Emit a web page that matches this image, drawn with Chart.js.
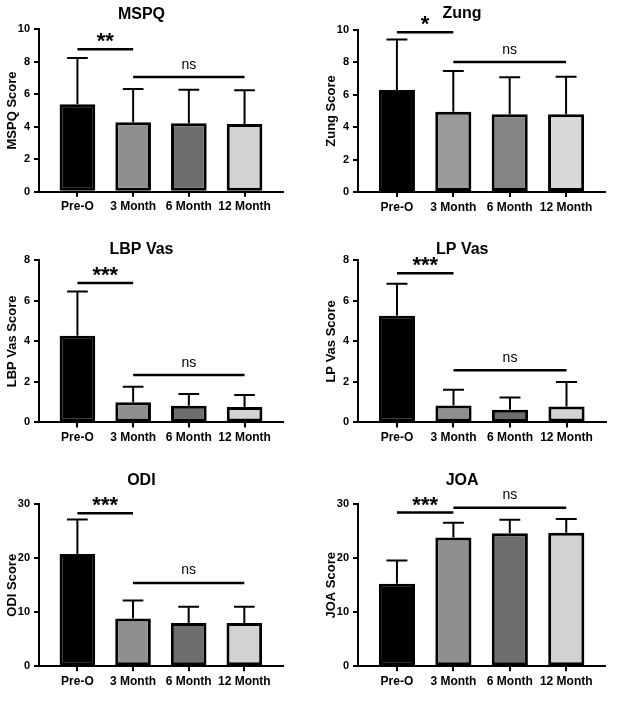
<!DOCTYPE html>
<html>
<head>
  <script src="https://cdn.jsdelivr.net/npm/chart.js@4.4.0/dist/chart.umd.min.js"></script>
  <style>
    html, body { margin: 0; padding: 0; background: #fff; overflow: hidden; }
    #wrap { position: relative; width: 638px; height: 715px; overflow: hidden; }
    canvas { position: absolute; }
  </style>
</head>
<body>
<div id="wrap"></div>
<script>
// groups on the x axis
var groups = ['Pre-O', '3 Month', '6 Month', '12 Month'];

// mean and SD per group
var mspqMean = [5.38, 4.28, 4.21, 4.17];
var mspqSD   = [2.86, 2.04, 2.07, 2.07];
var zungMean = [6.30, 4.96, 4.80, 4.80];
var zungSD   = [3.12, 2.51, 2.28, 2.32];
var lbpMean  = [4.28, 0.99, 0.82, 0.76];
var lbpSD    = [2.19, 0.77, 0.58, 0.59];
var lpMean   = [5.27, 0.84, 0.63, 0.79];
var lpSD     = [1.58, 0.77, 0.60, 1.20];
var odiMean  = [20.8, 8.83, 8.02, 8.02];
var odiSD    = [6.40, 3.37, 3.03, 3.03];
var joaMean  = [15.3, 23.83, 24.63, 24.75];
var joaSD    = [4.27, 2.77, 2.53, 2.53];

// significance brackets: group index pairs, level (in score units), label
var mspqSigPairs = [[0, 1], [1, 3]];
var mspqSigLevel = [8.77, 7.06];
var mspqSigText  = ['**', 'ns'];
var zungSigPairs = [[0, 1], [1, 3]];
var zungSigLevel = [9.86, 8.02];
var zungSigText  = ['*', 'ns'];
var lbpSigPairs  = [[0, 1], [1, 3]];
var lbpSigLevel  = [6.88, 2.34];
var lbpSigText   = ['***', 'ns'];
var lpSigPairs   = [[0, 1], [1, 3]];
var lpSigLevel   = [7.36, 2.58];
var lpSigText    = ['***', 'ns'];
var odiSigPairs  = [[0, 1], [1, 3]];
var odiSigLevel  = [28.33, 15.43];
var odiSigText   = ['***', 'ns'];
var joaSigPairs  = [[0, 1], [1, 3]];
var joaSigLevel  = [28.46, 29.38];
var joaSigText   = ['***', 'ns'];

var FONT = '"Liberation Sans", Arial, Helvetica, sans-serif';
var barColors = ['#000000', '#8f8f92', '#6d6d6d', '#d2d2d2'];
var zungColors = ['#000000', '#9a9a9a', '#848484', '#d8d8d8'];

// ax/ar = axis left/right, at/ab = plot top/bottom, tx/ty = title centre
function panel(p) {
  var L = p.ax - 39;
  var W = Math.round(2 * (p.tx - L));
  var T = p.ty - 12;
  var H = Math.round(p.ab - T + 40);
  var cv = document.createElement('canvas');
  cv.width = W; cv.height = H;
  cv.style.left = L + 'px'; cv.style.top = T + 'px';
  document.getElementById('wrap').appendChild(cv);

  var titlePadTop = (p.ty - T) - 8;
  var titlePadBottom = (p.at - T) - titlePadTop - 19.2;

  var extras = {
    id: 'extras',
    afterDatasetsDraw: function(chart) {
      var ctx = chart.ctx, xs = chart.scales.x, ys = chart.scales.y;
      var meta = chart.getDatasetMeta(0);
      ctx.save();
      ctx.strokeStyle = '#000';
      ctx.lineWidth = 2;
      meta.data.forEach(function(bar, i) {
        var top = ys.getPixelForValue(p.mean[i]);
        var end = ys.getPixelForValue(p.mean[i] + p.sd[i]);
        var cap = bar.width * 0.29;
        ctx.beginPath();
        ctx.moveTo(bar.x, top); ctx.lineTo(bar.x, end);
        ctx.moveTo(bar.x - cap, end); ctx.lineTo(bar.x + cap, end);
        ctx.stroke();
      });
      ctx.lineWidth = 2.5;
      ctx.fillStyle = '#000';
      ctx.textAlign = 'center';
      ctx.textBaseline = 'alphabetic';
      p.pairs.forEach(function(pr, k) {
        var x1 = xs.getPixelForValue(pr[0]), x2 = xs.getPixelForValue(pr[1]);
        var yy = ys.getPixelForValue(p.level[k]);
        ctx.beginPath(); ctx.moveTo(x1, yy); ctx.lineTo(x2, yy); ctx.stroke();
        var txt = p.text[k];
        if (txt === 'ns') {
          ctx.font = '14px ' + FONT;
          ctx.fillText(txt, (x1 + x2) / 2, yy - 8.5);
        } else {
          ctx.font = 'bold 22px ' + FONT;
          ctx.fillText(txt, (x1 + x2) / 2, yy - 1);
        }
      });
      ctx.restore();
    }
  };

  return new Chart(cv, {
    type: 'bar',
    data: {
      datasets: [{
        data: p.mean.map(function(v, i) { return { x: i, y: v }; }),
        backgroundColor: p.colors,
        borderColor: '#000',
        borderWidth: 3,
        borderSkipped: false,
        barPercentage: 0.64,
        categoryPercentage: 1
      }]
    },
    options: {
      responsive: false,
      animation: false,
      layout: { padding: { top: 0, left: 0, bottom: 0, right: W - (p.ar - L) } },
      plugins: {
        legend: { display: false },
        tooltip: { enabled: false },
        title: {
          display: true, text: p.title, color: '#000',
          font: { family: FONT, size: 16, weight: 'bold', lineHeight: 1.2 },
          padding: { top: titlePadTop, bottom: titlePadBottom }
        }
      },
      scales: {
        x: {
          type: 'linear', min: -0.69, max: 3.69, offset: false,
          afterBuildTicks: function(s) { s.ticks = groups.map(function(g, i) { return { value: i }; }); },
          afterFit: function(s) { s.height = H - (p.ab - T); },
          ticks: {
            autoSkip: false, maxRotation: 0, padding: 3, color: '#000',
            font: { family: FONT, size: 12, weight: 'bold' },
            callback: function(v) { return groups[v]; }
          },
          grid: { offset: false, drawOnChartArea: false, tickLength: 5, color: '#000', lineWidth: 2 },
          border: { color: '#000', width: 2 }
        },
        y: {
          min: 0, max: p.yMax,
          afterFit: function(s) { s.width = 39; },
          ticks: { stepSize: p.yStep, padding: 4, color: '#000', font: { family: FONT, size: 11, weight: 'bold' } },
          grid: { drawOnChartArea: false, tickLength: 5, color: '#000', lineWidth: 2 },
          border: { color: '#000', width: 2 },
          title: {
            display: true, text: p.yTitle, color: '#000',
            font: { family: FONT, size: 13, weight: 'bold', lineHeight: 1.2 },
            padding: { top: 4.7, bottom: 0 }
          }
        }
      }
    },
    plugins: [extras]
  });
}

panel({ title: 'MSPQ', yTitle: 'MSPQ Score', yMax: 10, yStep: 2, mean: mspqMean, sd: mspqSD,
  pairs: mspqSigPairs, level: mspqSigLevel, text: mspqSigText, colors: barColors,
  ax: 39, ar: 283, at: 29.3, ab: 191.7, tx: 162, ty: 13 });
panel({ title: 'Zung', yTitle: 'Zung Score', yMax: 10, yStep: 2, mean: zungMean, sd: zungSD,
  pairs: zungSigPairs, level: zungSigLevel, text: zungSigText, colors: zungColors,
  ax: 358, ar: 605, at: 30, ab: 192, tx: 483, ty: 12 });
panel({ title: 'LBP Vas', yTitle: 'LBP Vas Score', yMax: 8, yStep: 2, mean: lbpMean, sd: lbpSD,
  pairs: lbpSigPairs, level: lbpSigLevel, text: lbpSigText, colors: barColors,
  ax: 39, ar: 283, at: 260.7, ab: 422.7, tx: 161.7, ty: 248.3 });
panel({ title: 'LP Vas', yTitle: 'LP Vas Score', yMax: 8, yStep: 2, mean: lpMean, sd: lpSD,
  pairs: lpSigPairs, level: lpSigLevel, text: lpSigText, colors: barColors,
  ax: 357.5, ar: 605, at: 260.7, ab: 422.7, tx: 483.7, ty: 248.3 });
panel({ title: 'ODI', yTitle: 'ODI Score', yMax: 30, yStep: 10, mean: odiMean, sd: odiSD,
  pairs: odiSigPairs, level: odiSigLevel, text: odiSigText, colors: barColors,
  ax: 39.3, ar: 283, at: 504.3, ab: 666.3, tx: 161.7, ty: 479 });
panel({ title: 'JOA', yTitle: 'JOA Score', yMax: 30, yStep: 10, mean: joaMean, sd: joaSD,
  pairs: joaSigPairs, level: joaSigLevel, text: joaSigText, colors: barColors,
  ax: 357.5, ar: 604.7, at: 504.3, ab: 666.3, tx: 479.7, ty: 479 });
</script>
</body>
</html>
